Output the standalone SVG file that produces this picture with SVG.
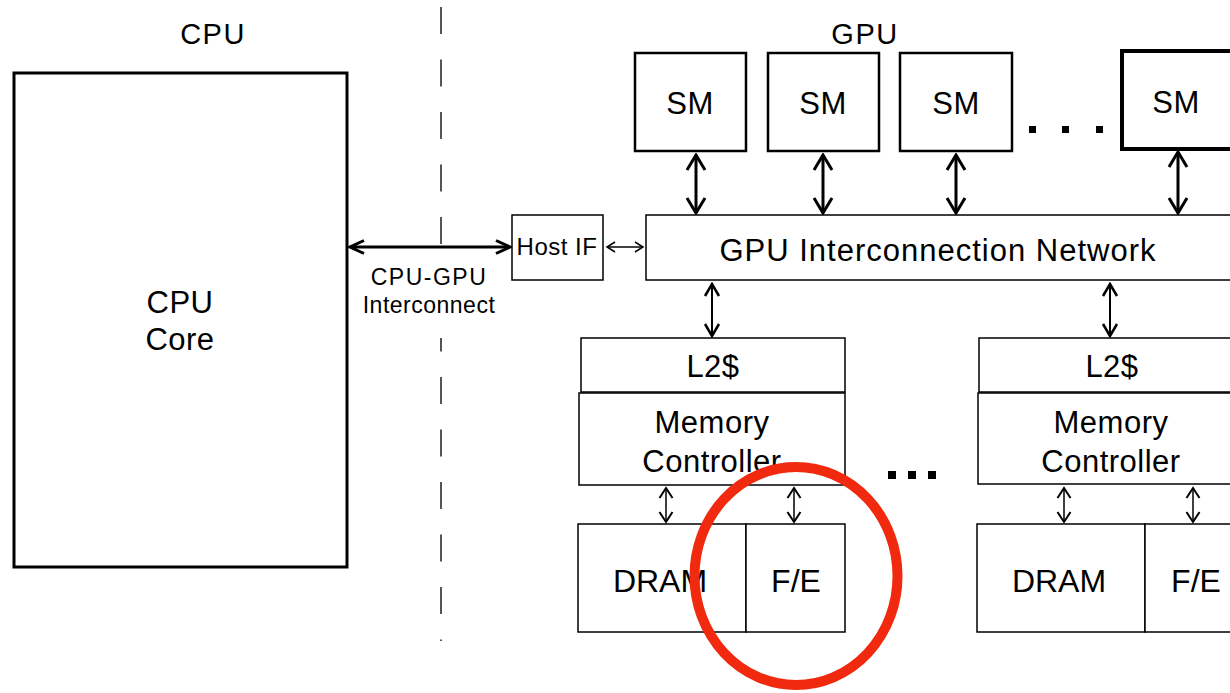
<svg xmlns="http://www.w3.org/2000/svg" width="1230" height="693" viewBox="0 0 1230 693">
  <style>
    text { font-family: "Liberation Sans", Arial, sans-serif; fill: #000; text-anchor: middle; }
    .lbl { font-size: 31px; letter-spacing: 0.5px; }
    .title { font-size: 29px; letter-spacing: 1.5px; }
    .big { font-size: 32px; }
    .small { font-size: 23px; letter-spacing: 0.5px; }
    .box { fill: #fff; stroke: #000; stroke-width: 1.5; }
    .heavy { fill: #fff; stroke: #000; stroke-width: 3; }
    .sm { fill: #fff; stroke: #000; stroke-width: 2.5; }
    .thick { stroke: #000; stroke-width: 3; fill: none; }
    .mid { stroke: #000; stroke-width: 2; fill: none; }
    .thin { stroke: #000; stroke-width: 1.5; fill: none; }
    .divider { stroke: #555; stroke-width: 2; stroke-dasharray: 27 25.5; fill: none; }
    .dot { fill: #000; }
  </style>
  <defs>
    <marker id="chevL" viewBox="-18 -11 20 22" refX="0" refY="0" markerWidth="20" markerHeight="22" markerUnits="userSpaceOnUse" orient="auto-start-reverse">
      <path d="M-15,-9 L0,0 L-15,9" fill="none" stroke="#000" stroke-width="3"/>
    </marker>
    <marker id="chevH" viewBox="-17 -9 19 18" refX="0" refY="0" markerWidth="19" markerHeight="18" markerUnits="userSpaceOnUse" orient="auto-start-reverse">
      <path d="M-14,-6.5 L0,0 L-14,6.5" fill="none" stroke="#000" stroke-width="3"/>
    </marker>
    <marker id="chevM" viewBox="-14 -9 16 18" refX="0" refY="0" markerWidth="16" markerHeight="18" markerUnits="userSpaceOnUse" orient="auto-start-reverse">
      <path d="M-12,-7 L0,0 L-12,7" fill="none" stroke="#000" stroke-width="2.5"/>
    </marker>
    <marker id="chevS" viewBox="-12 -8 14 16" refX="0" refY="0" markerWidth="14" markerHeight="16" markerUnits="userSpaceOnUse" orient="auto-start-reverse">
      <path d="M-10,-6.5 L0,0 L-10,6.5" fill="none" stroke="#000" stroke-width="2"/>
    </marker>
    <marker id="chevT" viewBox="-10 -7 12 14" refX="0" refY="0" markerWidth="12" markerHeight="14" markerUnits="userSpaceOnUse" orient="auto-start-reverse">
      <path d="M-8,-5 L0,0 L-8,5" fill="none" stroke="#000" stroke-width="1.5"/>
    </marker>
  </defs>

  <!-- section titles -->
  <text class="title" x="213" y="44">CPU</text>
  <text class="title" x="865" y="44">GPU</text>

  <!-- CPU / GPU boundary -->
  <g id="boundary">
    <line class="divider" x1="441" y1="7" x2="441" y2="248"/>
    <line class="divider" x1="441" y1="338" x2="441" y2="641" stroke-dashoffset="13.5"/>
  </g>

  <g id="cpu-core">
    <rect class="heavy" x="14" y="73" width="333" height="494"/>
    <text class="lbl" x="180" y="313">CPU</text>
    <text class="lbl" x="180" y="350">Core</text>
  </g>

  <g id="host-if">
    <rect class="box" x="512" y="215" width="91" height="65"/>
    <text class="small" x="557" y="255" style="font-size:24px">Host IF</text>
  </g>

  <g id="sm-1">
    <rect class="sm" x="635" y="53" width="111" height="98"/>
    <text class="lbl" x="690" y="114">SM</text>
  </g>
  <g id="sm-2">
    <rect class="sm" x="768" y="53" width="111" height="98"/>
    <text class="lbl" x="823" y="114">SM</text>
  </g>
  <g id="sm-3">
    <rect class="sm" x="900" y="53" width="112" height="98"/>
    <text class="lbl" x="956" y="114">SM</text>
  </g>
  <g id="sm-n">
    <rect x="1122" y="51" width="112" height="98" fill="#fff" stroke="#000" stroke-width="4"/>
    <text class="lbl" x="1176" y="113">SM</text>
  </g>
  <g id="sm-ellipsis">
    <rect class="dot" x="1029" y="126" width="7" height="7"/>
    <rect class="dot" x="1062" y="126" width="7" height="7"/>
    <rect class="dot" x="1096" y="126" width="7" height="7"/>
  </g>

  <g id="gpu-network">
    <rect class="box" x="646" y="215" width="600" height="65"/>
    <text class="lbl" x="938" y="261" style="letter-spacing:1px">GPU Interconnection Network</text>
  </g>

  <!-- memory partition 0 -->
  <g id="l2-0">
    <rect class="box" x="581" y="338" width="264" height="54"/>
    <text class="lbl" x="713" y="377">L2$</text>
  </g>
  <g id="mc-0">
    <rect class="box" x="579" y="393" width="266" height="92"/>
    <text class="lbl" x="712" y="433">Memory</text>
    <text class="lbl" x="712" y="472">Controller</text>
  </g>
  <g id="dram-0">
    <rect class="box" x="578" y="524" width="168" height="108"/>
    <text class="big" x="660" y="592">DRAM</text>
  </g>
  <g id="fe-0">
    <rect class="box" x="746" y="524" width="99" height="108"/>
    <text class="big" x="796" y="592">F/E</text>
  </g>

  <g id="partition-ellipsis">
    <rect class="dot" x="888" y="471" width="8" height="8"/>
    <rect class="dot" x="908" y="471" width="8" height="8"/>
    <rect class="dot" x="928" y="471" width="8" height="8"/>
  </g>

  <!-- memory partition N -->
  <g id="l2-n">
    <rect class="box" x="979" y="338" width="270" height="54"/>
    <text class="lbl" x="1112" y="377">L2$</text>
  </g>
  <g id="mc-n">
    <rect class="box" x="978" y="393" width="270" height="91"/>
    <text class="lbl" x="1111" y="433">Memory</text>
    <text class="lbl" x="1111" y="472">Controller</text>
  </g>
  <g id="dram-n">
    <rect class="box" x="977" y="524" width="168" height="108"/>
    <text class="big" x="1059" y="592">DRAM</text>
  </g>
  <g id="fe-n">
    <rect class="box" x="1145" y="524" width="99" height="108"/>
    <text class="big" x="1196" y="592">F/E</text>
  </g>

  <!-- connectors -->
  <g id="connectors">
    <line class="thick" x1="350" y1="247" x2="510" y2="247" marker-start="url(#chevH)" marker-end="url(#chevH)"/>
    <line class="thin" x1="607" y1="247" x2="643" y2="247" marker-start="url(#chevT)" marker-end="url(#chevT)"/>

    <line class="thick" x1="696" y1="155" x2="696" y2="213" marker-start="url(#chevL)" marker-end="url(#chevL)"/>
    <line class="thick" x1="823" y1="155" x2="823" y2="213" marker-start="url(#chevL)" marker-end="url(#chevL)"/>
    <line class="thick" x1="956" y1="155" x2="956" y2="213" marker-start="url(#chevL)" marker-end="url(#chevL)"/>
    <line class="thick" x1="1178" y1="152" x2="1178" y2="213" marker-start="url(#chevL)" marker-end="url(#chevL)"/>

    <line class="mid" x1="712" y1="284" x2="712" y2="336" marker-start="url(#chevM)" marker-end="url(#chevM)"/>
    <line class="mid" x1="1110" y1="284" x2="1110" y2="336" marker-start="url(#chevM)" marker-end="url(#chevM)"/>

    <line class="thin" x1="666" y1="488" x2="666" y2="522" marker-start="url(#chevS)" marker-end="url(#chevS)"/>
    <line class="thin" x1="794" y1="488" x2="794" y2="522" marker-start="url(#chevS)" marker-end="url(#chevS)"/>
    <line class="thin" x1="1064" y1="488" x2="1064" y2="522" marker-start="url(#chevS)" marker-end="url(#chevS)"/>
    <line class="thin" x1="1193" y1="488" x2="1193" y2="522" marker-start="url(#chevS)" marker-end="url(#chevS)"/>
  </g>

  <!-- link label between the boundary segments -->
  <g id="link-label">
    <text class="small" x="429" y="285" style="letter-spacing:1.5px">CPU-GPU</text>
    <text class="small" x="429" y="313">Interconnect</text>
  </g>

  <!-- highlight around the F/E unit -->
  <ellipse id="highlight" cx="796" cy="576" rx="101.5" ry="109" fill="none" stroke="#f1290e" stroke-width="10"/>
</svg>
